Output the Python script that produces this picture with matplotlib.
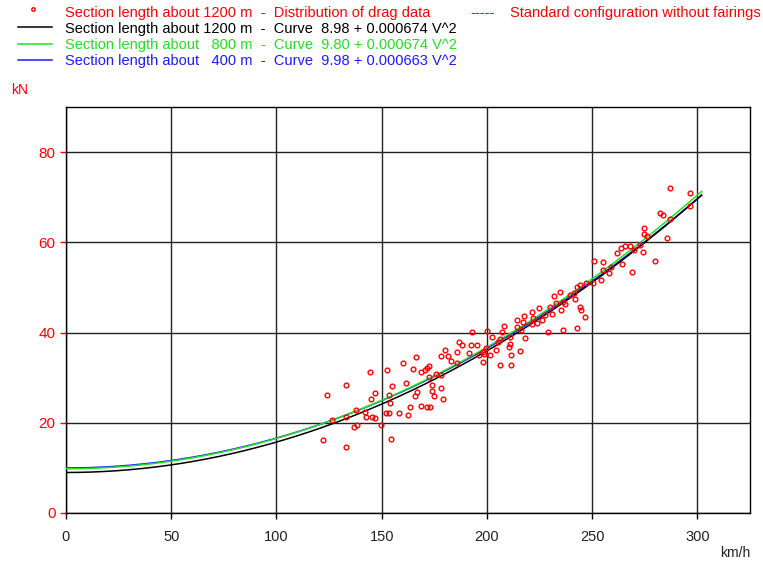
import numpy as np
import matplotlib
matplotlib.use("Agg")
import matplotlib.pyplot as plt

plt.rcParams["font.family"] = ["Liberation Sans", "DejaVu Sans"]

# drag data, section length about 1200 m (km/h, kN)
speed = [166.5, 160.1, 164.9, 168.5, 144.5, 152.5, 133.2, 161.4, 154.9, 123.9,
         147.0, 153.5, 167.0, 145.1, 166.0, 153.8, 163.6, 138.0, 141.9, 152.2,
         153.5, 158.1, 162.7, 142.7, 145.4, 146.7, 133.0, 126.4, 138.3, 136.7,
         149.8, 122.1, 154.4, 132.9,
         207.9, 192.7, 200.2, 207.3, 202.2, 206.0, 210.8, 186.7, 188.0, 192.2,
         195.1, 199.7, 205.4, 204.1, 179.9, 185.6, 191.4, 198.1, 201.3, 178.0,
         181.5, 196.2, 198.6, 182.7, 185.9, 198.3, 206.0, 211.3, 172.4, 171.6,
         170.8, 175.9, 178.4, 172.4, 174.0, 178.4, 173.7, 174.9, 179.1, 168.5,
         171.6, 172.9,
         251.0, 255.2, 257.9, 254.0, 250.5, 247.3, 244.1, 242.6, 234.6, 239.4,
         241.4, 231.9, 241.8, 236.2, 233.0, 237.0, 244.1, 244.6, 224.6, 229.9,
         235.1, 221.2, 230.7, 227.5, 246.8, 217.7, 222.0, 226.0, 214.3, 217.2,
         224.0, 221.5, 214.5, 242.6, 236.2, 228.8, 216.4, 218.0, 210.9, 210.4,
         215.6, 211.3,
         286.9, 296.3, 296.3, 282.2, 283.8, 286.9, 274.4, 274.8, 275.9, 285.5,
         272.8, 267.8, 265.8, 263.7, 269.7, 274.0, 261.6, 255.3, 279.9, 264.0,
         258.9, 269.1]
drag = [34.6, 33.3, 32.0, 31.3, 31.2, 31.8, 28.3, 28.8, 28.1, 26.2,
        26.6, 26.2, 26.9, 25.2, 26.0, 24.3, 23.5, 22.8, 22.4, 22.1,
        22.1, 22.2, 21.7, 21.3, 21.3, 21.0, 21.3, 20.6, 19.6, 19.0,
        19.6, 16.1, 16.4, 14.6,
        41.5, 40.2, 40.4, 40.2, 39.0, 38.5, 39.0, 38.0, 37.3, 37.3,
        37.3, 36.5, 37.8, 36.2, 36.2, 35.6, 35.4, 35.8, 35.1, 34.8,
        34.8, 35.1, 35.3, 33.6, 33.2, 33.5, 32.9, 32.9, 32.6, 32.1,
        31.7, 30.9, 30.6, 30.1, 28.4, 27.6, 27.0, 26.0, 25.3, 23.8,
        23.5, 23.5,
        55.8, 53.8, 53.1, 51.6, 51.0, 50.9, 50.5, 50.1, 49.0, 48.3,
        48.7, 48.1, 47.4, 46.8, 46.6, 46.3, 45.7, 45.1, 45.4, 45.7,
        45.0, 44.6, 44.1, 43.9, 43.4, 43.7, 43.2, 42.8, 42.8, 42.4,
        42.1, 41.8, 41.3, 41.0, 40.6, 40.2, 40.6, 38.9, 37.4, 36.8,
        36.0, 35.1,
        72.0, 71.0, 68.1, 66.5, 66.1, 65.1, 63.2, 61.8, 61.5, 60.9,
        59.5, 59.1, 59.1, 58.8, 58.4, 57.9, 57.6, 55.6, 55.9, 55.2,
        54.5, 53.5]

# fitted curves F = a + b V^2, from the legend
sections = ["1200", "800", "400"]
coef_a = [8.98, 9.80, 9.98]
coef_b = [0.000674, 0.000674, 0.000663]
colors = ["black", "#22e022", "#1a1aff"]
v_max = 302

fig = plt.figure(figsize=(7.63, 5.65), dpi=100)
W, H = 763, 565
ax = fig.add_axes([66 / W, 1 - 513 / H, (750 - 66) / W, (513 - 107) / H])

v = np.linspace(0, v_max, 200)
for i in [2, 1, 0]:
    ax.plot(v, coef_a[i] + coef_b[i] * v ** 2, color=colors[i], lw=1.1, zorder=3)
ax.plot(speed, drag, "o", mfc="none", mec="red", ms=3.4, mew=1.0, zorder=4)

ax.set_xlim(0, 325)
ax.set_ylim(0, 90)
ax.set_xticks(range(0, 301, 50))
ax.set_yticks(range(0, 81, 20))
ax.grid(True, color="#222222", lw=1.0)
ax.set_axisbelow(True)
for s in ax.spines.values():
    s.set_color("black")
    s.set_linewidth(1.0)
ax.tick_params(axis="y", colors="red", labelcolor="red", length=4, width=1, labelsize=11)
ax.tick_params(axis="x", colors="black", labelcolor="#222222", length=4, width=1, labelsize=10.5, pad=8)

fig.text(20 / W, 1 - 90 / H, "kN", color="red", fontsize=10, ha="center", va="center")
fig.text(750 / W, 1 - 553 / H, "km/h", color="#222222", fontsize=10, ha="right", va="center")

# legend drawn by hand
fs = 10.5
fig.lines.append(plt.Line2D([33 / W], [1 - 9 / H], marker="o", ms=2.5, mfc="none",
                            mec="red", mew=1, transform=fig.transFigure))
fig.text(65 / W, 1 - 13 / H, "Section length about 1200 m  -  Distribution of drag data",
         color="red", fontsize=fs, va="center")
fig.text(470 / W, 1 - 13 / H, "-----", color="red", fontsize=fs, va="center")
fig.text(510 / W, 1 - 13 / H, "Standard configuration without fairings",
         color="red", fontsize=fs, va="center")
rows_y = [28.5, 45, 61]
line_y = [27, 43.5, 59.5]
for i in range(3):
    fig.lines.append(plt.Line2D([18 / W, 52 / W], [1 - line_y[i] / H] * 2, color=colors[i],
                                lw=1.1, transform=fig.transFigure))
    label = "Section length about %s m  -  Curve  %.2f + %.6f V^2" % (
        sections[i].rjust(4), coef_a[i], coef_b[i])
    label = label.replace(" 800 m", "  800 m").replace(" 400 m", "  400 m")
    fig.text(65 / W, 1 - rows_y[i] / H, label, color=colors[i], fontsize=fs, va="center")

fig.savefig("out.png", dpi=100)
